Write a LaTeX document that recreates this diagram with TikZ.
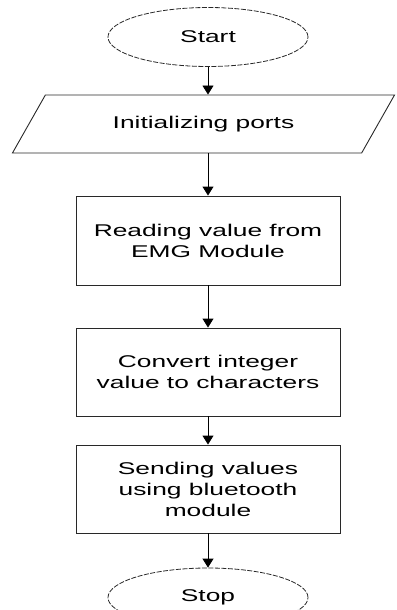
\documentclass[tikz,border=0pt]{standalone}
\usepackage{fontspec}
\setmainfont[FakeStretch=1.55]{Liberation Sans}
\usepackage{tikz}
\usetikzlibrary{shapes.geometric,arrows.meta,positioning}
\tikzset{every node/.append style={align=center}}
\definecolor{linecolor}{RGB}{40, 40, 40}

\begin{document}
\begin{tikzpicture}[
    x=1pt, y=1pt,
    terminal/.style={draw=linecolor, line width=0.8pt, dash pattern=on 5pt off 1.5pt, ellipse, minimum width=200pt, minimum height=59pt, inner sep=0pt, font=\fontsize{17}{20.5}\selectfont},
    io/.style={draw=linecolor, line width=0.9pt, trapezium, trapezium left angle=40, trapezium right angle=140, trapezium stretches=true, minimum width=383pt, minimum height=58pt, inner sep=0pt, font=\fontsize{17}{20.5}\selectfont},
    process/.style={draw=linecolor, line width=0.9pt, rectangle, minimum width=264pt, minimum height=88pt, inner sep=0pt, font=\fontsize{17}{21}\selectfont},
    arrow/.style={-{Triangle[width=11pt,length=9pt]}, line width=0.9pt, black}
]
    \useasboundingbox (0,0) rectangle (396,-610);

    % Steps
    \node[terminal] (start) at (208, -37) {Start};
    \node[io] (init) at (203.5, -124) {Initializing ports};
    \node[process, minimum height=89pt] (read) at (208, -240.5) {Reading value from\\EMG Module};
    \node[process] (convert) at (208, -372) {Convert integer\\value to characters};
    \node[process] (send) at (208, -489) {Sending values\\using bluetooth\\module};
    \node[terminal] (stop) at (208, -597.5) {Stop};

    % Arrows
    \draw[arrow] (start) -- (start.south |- init.north);
    \draw[arrow] (read.north |- init.south) -- (read);
    \draw[arrow] (read) -- (convert);
    \draw[arrow] (convert) -- (send);
    \draw[arrow] (send) -- (stop);

\end{tikzpicture}
\end{document}
